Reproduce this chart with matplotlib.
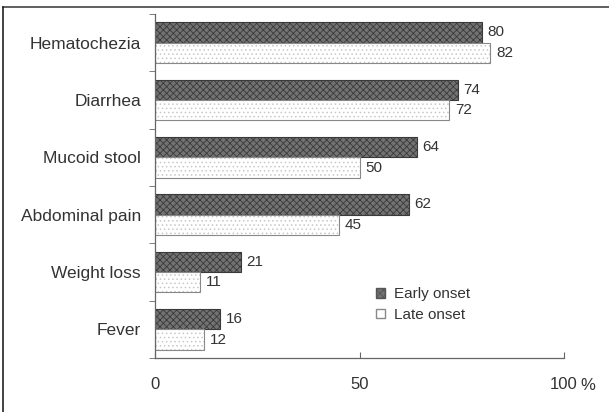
import matplotlib
matplotlib.use("Agg")
import matplotlib.pyplot as plt
import numpy as np
from matplotlib.lines import Line2D
from matplotlib.patches import Patch

categories = ["Hematochezia", "Diarrhea", "Mucoid stool", "Abdominal pain", "Weight loss", "Fever"]
early_onset = [80, 74, 64, 62, 21, 16]
late_onset = [82, 72, 50, 45, 11, 12]
xticks = [0, 50, 100]
xticklabels = ["0", "50", "100"]

plt.rcParams['font.family'] = ['Liberation Sans', 'DejaVu Sans']
plt.rcParams['hatch.linewidth'] = 0.6

W, H = 609, 412
fig = plt.figure(figsize=(W / 100, H / 100), dpi=100)
ax = fig.add_axes([155 / W, 1 - 358 / H, (564 - 155) / W, (358 - 14) / H])

y = np.arange(len(categories))
h = 0.355
text_color = "#333333"

plt.rcParams['hatch.color'] = "#4a4a4a"
b1 = ax.barh(y - h / 2, early_onset, height=h, color="#727272", edgecolor="#3a3a3a",
             hatch="xxxxx", linewidth=0.8, label="Early onset")
b2 = ax.barh(y + h / 2, late_onset, height=h, color="white", edgecolor="#888888",
             hatch="....", linewidth=0.8, label="Late onset")
for p in b2.patches:
    p._hatch_color = matplotlib.colors.to_rgba("#c8c8c8")

for yi, v in zip(y, early_onset):
    ax.annotate(str(v), (v, yi - h / 2), xytext=(4, 0), textcoords="offset points",
                va="center", ha="left", fontsize=11, color=text_color)
for yi, v in zip(y, late_onset):
    ax.annotate(str(v), (v, yi + h / 2), xytext=(4, 0), textcoords="offset points",
                va="center", ha="left", fontsize=11, color=text_color)

ax.set_xlim(0, 100)
ax.set_ylim(len(categories) - 0.5, -0.5)
ax.set_yticks(y)
ax.set_yticklabels(categories, fontsize=12.5, color=text_color)
ax.set_yticks(np.arange(-0.5, len(categories) + 0.5, 1), minor=True)
ax.tick_params(axis="y", which="major", length=0, pad=10)
ax.tick_params(axis="y", which="minor", length=4, direction="out", color="#666666")
ax.set_xticks(xticks)
ax.set_xticklabels(xticklabels, fontsize=12, color=text_color)
ax.tick_params(axis="x", which="major", length=4, direction="in", pad=14, color="#666666")
ax.annotate("%", (100, 0), xycoords=("data", "axes fraction"), xytext=(12, -20),
            textcoords="offset points", ha="left", va="center", fontsize=12, color=text_color)

for s in ["top", "right"]:
    ax.spines[s].set_visible(False)
for s in ["left", "bottom"]:
    ax.spines[s].set_color("#666666")
    ax.spines[s].set_linewidth(0.9)

handles = [Patch(facecolor="#727272", edgecolor="#555555", hatch="xxxxx"),
           Patch(facecolor="white", edgecolor="#888888")]
leg = ax.legend(handles, ["Early onset", "Late onset"], loc="upper left",
                bbox_to_anchor=((370 - 155) / 409, (358 - 281) / 344), frameon=False,
                fontsize=11, handlelength=0.6, handleheight=0.6, handletextpad=0.6,
                labelspacing=0.45, borderaxespad=0)
for t in leg.get_texts():
    t.set_color(text_color)

fig.add_artist(Line2D([3 / W, 1], [1 - 7 / H, 1 - 7 / H], color="#444444", lw=1.2))
fig.add_artist(Line2D([3 / W, 3 / W], [0, 1 - 7 / H], color="#222222", lw=1.2))

fig.savefig("out.png", dpi=100)
